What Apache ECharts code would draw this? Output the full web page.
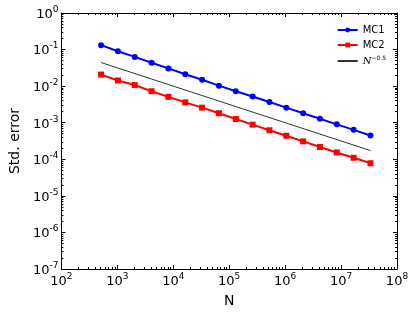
<!DOCTYPE html>
<html><head><meta charset="utf-8">
<script src="https://cdn.jsdelivr.net/npm/echarts@6/dist/echarts.min.js"></script>
<style>html,body{margin:0;padding:0;background:#fff}#c{width:415px;height:313px}</style>
</head><body><div id="c"></div>
<script>
const sampleN = [512, 1024, 2048, 4096, 8192, 16384, 32768, 65536, 131072, 262144, 524288, 1048576, 2097152, 4194304, 8388608, 16777216, 33554432];
const mc1 = [0.132, 0.0897, 0.0630, 0.0435, 0.0306, 0.0211, 0.0149, 0.0103, 0.00724, 0.00522, 0.00367, 0.00258, 0.00182, 0.00128, 0.000902, 0.000638, 0.000448];
const mc2 = [0.0207, 0.0143, 0.0107, 0.00724, 0.00509, 0.00360, 0.00258, 0.00182, 0.00126, 0.000885, 0.000622, 0.000440, 0.000309, 0.000217, 0.000154, 0.000110, 0.0000780];
const refN = [512, 33554432];
const refVal = [0.0442, 0.000173];
const xExp = [2, 3, 4, 5, 6, 7, 8];
const yExp = [-7, -6, -5, -4, -3, -2, -1, 0];
const seriesNames = ['MC1', 'MC2', 'N^-0.5'];

function minorLogs(lo, hi) {
  const out = [];
  for (let d = lo; d < hi; d++) for (let k = 2; k <= 9; k++) out.push(d + Math.log10(k));
  return out;
}
const font = 'DejaVu Sans';
const richLbl = {
  b: {fontSize: 13, fontFamily: font, color: '#000', lineHeight: 16, verticalAlign: 'bottom'},
  s: {fontSize: 9, fontFamily: font, color: '#000', lineHeight: 16, verticalAlign: 'top'}
};
const fmt = v => '{b|10}{s|' + String(v) + '}';
function tickAxis(pos, lo, hi, kind) {
  const major = kind === 'major';
  const labels = major && (pos === 'bottom' || pos === 'left');
  return {
    type: 'value', position: pos, min: lo, max: hi, interval: 1,
    axisLine: {show: major, onZero: false, lineStyle: {color: '#000', width: 1}},
    axisTick: major ? {show: true, inside: true, length: 4, lineStyle: {color: '#000'}}
                    : {show: true, inside: true, length: 2, customValues: minorLogs(lo, hi), lineStyle: {color: '#000'}},
    axisLabel: labels ? {show: true, formatter: fmt, rich: richLbl, margin: 3} : {show: false},
    splitLine: {show: false}
  };
}
const xAxes = [
  {type: 'log', min: 100, max: 1e8, logBase: 10, show: false},
  Object.assign(tickAxis('bottom', xExp[0], xExp[xExp.length - 1], 'major'), {
    name: 'N', nameLocation: 'middle', nameGap: 25,
    nameTextStyle: {fontSize: 14, fontFamily: font, color: '#000'}}),
  tickAxis('bottom', xExp[0], xExp[xExp.length - 1], 'minor'),
  tickAxis('top', xExp[0], xExp[xExp.length - 1], 'major'),
  tickAxis('top', xExp[0], xExp[xExp.length - 1], 'minor')
];
const yAxes = [
  {type: 'log', min: 1e-7, max: 1, logBase: 10, show: false},
  Object.assign(tickAxis('left', yExp[0], yExp[yExp.length - 1], 'major'), {
    name: 'Std. error', nameLocation: 'middle', nameGap: 35, nameRotate: 90,
    nameTextStyle: {fontSize: 14, fontFamily: font, color: '#000'}}),
  tickAxis('left', yExp[0], yExp[yExp.length - 1], 'minor'),
  tickAxis('right', yExp[0], yExp[yExp.length - 1], 'major'),
  tickAxis('right', yExp[0], yExp[yExp.length - 1], 'minor')
];
const zip = (a, b) => a.map((v, i) => [v, b[i]]);
const chart = echarts.init(document.getElementById('c'), null, {renderer: 'canvas'});
chart.setOption({
  animation: false,
  backgroundColor: '#fff',
  grid: {left: 60, right: 18, top: 13, bottom: 39, containLabel: false},
  xAxis: xAxes,
  yAxis: yAxes,
  legend: {
    orient: 'vertical', right: 24, top: 20, itemWidth: 20, itemHeight: 6, itemGap: 5,
    data: [seriesNames[0], seriesNames[1], {name: seriesNames[2], itemStyle: {opacity: 0}}],
    textStyle: {fontSize: 10, fontFamily: font, color: '#000',
      rich: {i: {fontSize: 10, fontStyle: 'italic', fontFamily: 'DejaVu Serif', color: '#000'},
             s: {fontSize: 6, fontFamily: font, color: '#000', verticalAlign: 'top', lineHeight: 12}}},
    formatter: n => n === 'N^-0.5' ? '{i|N}{s|\u22120.5}' : n
  },
  series: [
    {name: seriesNames[0], type: 'line', xAxisIndex: 0, yAxisIndex: 0, data: zip(sampleN, mc1),
     symbol: 'circle', symbolSize: 6, lineStyle: {color: '#0000ff', width: 2}, itemStyle: {color: '#0000ff'}},
    {name: seriesNames[1], type: 'line', xAxisIndex: 0, yAxisIndex: 0, data: zip(sampleN, mc2),
     symbol: 'rect', symbolSize: 6, lineStyle: {color: '#ff0000', width: 2}, itemStyle: {color: '#ff0000'}},
    {name: seriesNames[2], type: 'line', xAxisIndex: 0, yAxisIndex: 0, data: zip(refN, refVal),
     symbol: 'none', lineStyle: {color: '#333', width: 1}, itemStyle: {color: '#333'}}
  ]
});
</script></body></html>
